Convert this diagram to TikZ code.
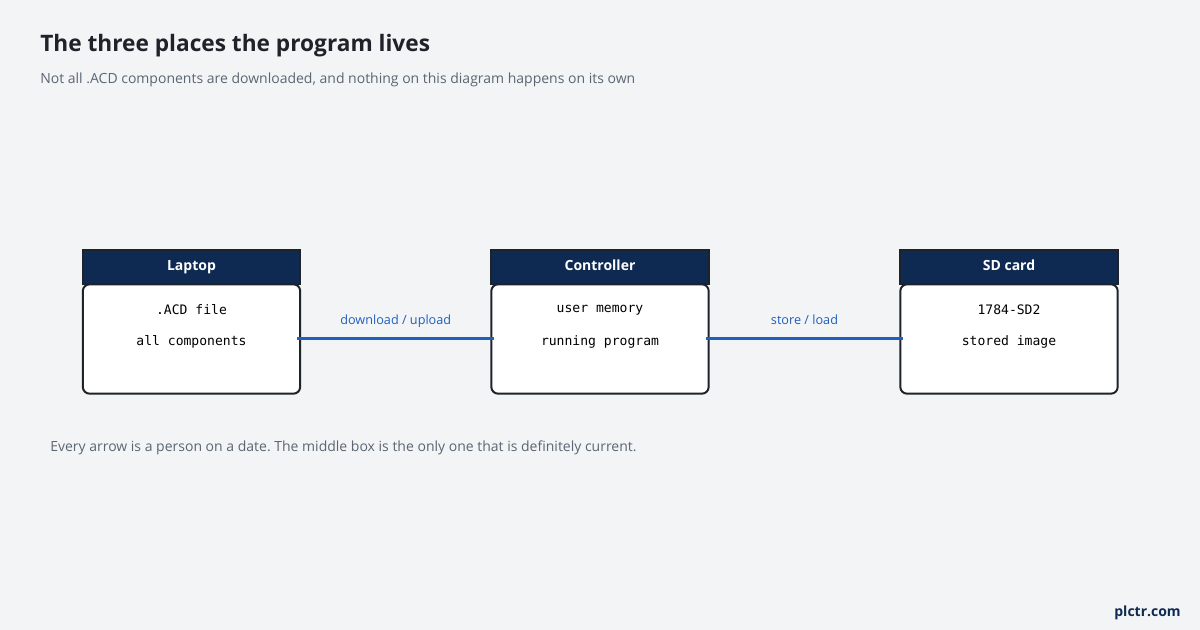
\documentclass[tikz,border=0pt]{standalone}
\usepackage{fontspec}
\setmainfont{Open Sans}
\setmonofont{DejaVu Sans Mono}
\frenchspacing
\usetikzlibrary{positioning}
\definecolor{bgcol}{HTML}{F3F4F6}
\definecolor{navy}{HTML}{0F2A52}
\definecolor{edge}{HTML}{1F2329}
\definecolor{linkblue}{HTML}{1F5FBF}
\definecolor{greytext}{HTML}{5A6673}
\tikzset{
  head/.style={draw=edge,line width=1.5pt,fill=navy,minimum width=163pt,minimum height=25pt,inner sep=0pt,text=white,text height=8pt,text depth=2pt,font=\fontsize{10.5}{12}\selectfont\bfseries},
  body/.style={draw=edge,line width=1.5pt,fill=white,rounded corners=5pt,minimum width=163pt,minimum height=82pt,inner sep=0pt},
  mono/.style={font=\ttfamily\fontsize{9.8}{11}\selectfont,text=black},
  link/.style={draw=linkblue,line width=2.4pt},
  linklabel/.style={font=\fontsize{9.5}{11}\selectfont,text=linkblue,text depth=0pt,text height=7pt}
}
\begin{document}
\begin{tikzpicture}[x=0.75pt,y=-0.75pt]
\fill[bgcol] (0,0) rectangle (1200,630);
\useasboundingbox (0,0) rectangle (1200,630);

% title
\node[anchor=west,inner sep=0pt,font=\fontsize{17}{20}\selectfont\bfseries,text=edge] (title) at (40,46) {The three places the program lives};
\node[anchor=west,inner sep=0pt,font=\fontsize{10.5}{12}\selectfont,text=greytext] (subtitle) at (40,80) {Not all .ACD components are downloaded, and nothing on this diagram happens on its own};

% boxes
\node[body] (laptop) at (191.5,339) {};
\node[head,anchor=south] (laptophead) at ([yshift=-1pt]laptop.north) {Laptop};
\node[mono] (laptopa) at (191.5,310) {.ACD file};
\node[mono] (laptopb) at (191.5,342) {all components};

\node[body] (ctrl) at (600,339) {};
\node[head,anchor=south] (ctrlhead) at ([yshift=-1pt]ctrl.north) {Controller};
\node[mono] (ctrla) at (600,310) {user memory};
\node[mono] (ctrlb) at (600,342) {running program};

\node[body] (sd) at (1009,339) {};
\node[head,anchor=south] (sdhead) at ([yshift=-1pt]sd.north) {SD card};
\node[mono] (sda) at (1009,310) {1784-SD2};
\node[mono] (sdb) at (1009,342) {stored image};

% connectors
\draw[link] ([xshift=-3pt,yshift=0.6pt]laptop.east) -- node[linklabel,above=6pt] {download / upload} ([xshift=3pt,yshift=0.6pt]ctrl.west);
\draw[link] ([xshift=-3pt,yshift=0.6pt]ctrl.east) -- node[linklabel,above=6pt] {store / load} ([xshift=3pt,yshift=0.6pt]sd.west);

% footer
\node[anchor=west,inner sep=0pt,font=\fontsize{10.5}{12}\selectfont,text=greytext] (note) at (50,448) {Every arrow is a person on a date. The middle box is the only one that is definitely current.};
\node[anchor=east,inner sep=0pt,font=\fontsize{10.5}{12}\selectfont\bfseries,text=navy] (brand) at (1181,613) {plctr.com};
\end{tikzpicture}
\end{document}
